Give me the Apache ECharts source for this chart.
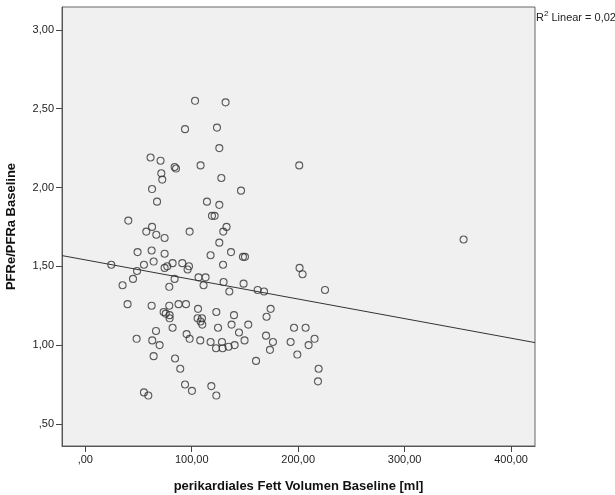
<!DOCTYPE html>
<html>
<head>
<meta charset="utf-8">
<script src="https://cdn.jsdelivr.net/npm/echarts@6/dist/echarts.min.js"></script>
<style>
  html, body { margin: 0; padding: 0; background: #fff; }
  #main { width: 615px; height: 495px; }
</style>
</head>
<body>
<div id="main"></div>
<script>
// perikardiales Fett Volumen Baseline [ml] vs. PFRe/PFRa Baseline
var fatVolume = [
  61.3, 70.7, 83.9, 85.2, 71.4, 72.3, 62.7, 67.4, 40.4, 62.7, 57.3, 66.7, 74.5,
  49.1, 62.3, 74.5, 64.2, 55.1, 24.4, 74.5, 77.0, 82.0, 48.6, 44.8, 35.0, 78.9, 83.9,
  39.7, 62.3, 78.9, 73.6, 75.6, 79.2, 79.2, 87.6, 82.0, 66.4, 48.2, 62.9, 69.8,
  64.2, 84.3, 89.2, 55.1, 59.2,
  103.1, 131.8, 93.7, 123.7, 125.9, 108.3, 201.0, 127.8, 146.3, 114.3, 125.9,
  119.0, 121.5, 98.0, 132.7, 129.6,
  125.9, 117.7, 136.9, 148.1, 150.0, 91.1, 97.4, 96.1, 129.4, 201.3, 204.1,
  106.4, 113.0, 111.1, 129.9, 148.7, 135.3, 161.9, 167.9, 225.2, 94.6,
  105.9, 105.5, 109.6, 108.3, 109.9, 123.1, 139.7, 174.1, 170.3, 137.4, 124.7,
  153.1, 144.4, 196.1, 207.0, 95.2, 98.0, 108.0, 117.7, 128.4, 122.8, 129.0,
  134.6, 140.3, 149.6, 169.8, 176.3, 173.5, 192.9, 215.4, 209.8, 199.2, 160.4,
  93.7, 100.2, 118.4, 123.1, 219.2, 218.6,
  355.4
];
var pfrRatio = [
  2.19, 2.17, 2.13, 2.12, 2.09, 2.05, 1.99, 1.91, 1.79, 1.75, 1.72, 1.70, 1.68,
  1.59, 1.60, 1.58, 1.53, 1.51, 1.51, 1.49, 1.50, 1.52, 1.47, 1.42, 1.38, 1.37, 1.42,
  1.26, 1.25, 1.25, 1.21, 1.20, 1.19, 1.17, 1.26, 1.11, 1.09, 1.04, 1.03, 1.00,
  0.93, 0.915, 0.85, 0.70, 0.68,
  2.55, 2.54, 2.37, 2.38, 2.25, 2.14, 2.14, 2.06, 1.98, 1.91, 1.89,
  1.82, 1.82, 1.72, 1.75, 1.72,
  1.65, 1.57, 1.59, 1.56, 1.56, 1.52, 1.50, 1.48, 1.51, 1.49, 1.45,
  1.43, 1.43, 1.38, 1.40, 1.39, 1.34, 1.35, 1.34, 1.35, 1.26,
  1.23, 1.17, 1.17, 1.15, 1.13, 1.21, 1.19, 1.23, 1.18, 1.13, 1.11,
  1.13, 1.08, 1.11, 1.11, 1.07, 1.04, 1.03, 1.02, 1.02, 0.98, 0.98,
  0.99, 1.00, 1.03, 1.06, 1.02, 0.97, 1.02, 1.04, 1.00, 0.94, 0.90,
  0.75, 0.71, 0.74, 0.68, 0.85, 0.77,
  1.67
];
// linear fit, end points at the axis limits
var fitLine = [[-21.9, 1.568], [422.5, 1.016]];

var xTicks = [0, 100, 200, 300, 400];
var yTicks = [0.5, 1.0, 1.5, 2.0, 2.5, 3.0];

function deNum(v) {
  var s = v.toFixed(2).replace('.', ',');
  return s.charAt(0) === '0' ? s.substring(1) : s;
}

var points = fatVolume.map(function (x, i) { return [x, pfrRatio[i]]; });

var myChart = echarts.init(document.getElementById('main'));
var font = 'Liberation Sans, Arial, sans-serif';
var option = {
  animation: false,
  textStyle: { fontFamily: font },
  grid: {
    left: 62, right: 80, top: 7, bottom: 49,
    outerBoundsMode: 'none',
    containLabel: false,
    show: true,
    backgroundColor: '#f0f0f0',
    borderColor: '#666',
    borderWidth: 1
  },
  xAxis: {
    type: 'value',
    min: -21.9,
    max: 422.5,
    name: 'perikardiales Fett Volumen Baseline [ml]',
    nameLocation: 'middle',
    nameGap: 34,
    nameTextStyle: { fontFamily: font, fontSize: 13, fontWeight: 'bold', color: '#111' },
    axisLine: { onZero: false, lineStyle: { color: '#555', width: 1 } },
    axisTick: { customValues: xTicks, length: 6, lineStyle: { color: '#444' } },
    axisLabel: {
      customValues: xTicks,
      formatter: deNum,
      fontSize: 11, color: '#222', margin: 8
    },
    splitLine: { show: false }
  },
  yAxis: {
    type: 'value',
    min: 0.36,
    max: 3.145,
    name: 'PFRe/PFRa Baseline',
    nameLocation: 'middle',
    nameGap: 44,
    nameTextStyle: { fontFamily: font, fontSize: 13, fontWeight: 'bold', color: '#111' },
    axisLine: { show: true, onZero: false, lineStyle: { color: '#555', width: 1 } },
    axisTick: { show: true, customValues: yTicks, length: 6, lineStyle: { color: '#444' } },
    axisLabel: {
      customValues: yTicks,
      formatter: deNum,
      fontSize: 11, color: '#222', margin: 8
    },
    splitLine: { show: false }
  },
  series: [
    {
      type: 'scatter',
      data: points,
      symbol: 'circle',
      symbolSize: 7,
      itemStyle: { color: 'rgba(0,0,0,0)', borderColor: '#333', borderWidth: 1.1 },
      z: 3
    },
    {
      type: 'line',
      data: fitLine,
      showSymbol: false,
      lineStyle: { color: '#333', width: 1 },
      z: 2
    }
  ],
  graphic: [
    {
      type: 'text',
      left: 536,
      top: 10,
      style: {
        text: '{b|R}{s|2}{b| Linear = 0,02}',
        rich: {
          b: { fontFamily: font, fontSize: 11, fill: '#222', verticalAlign: 'bottom' },
          s: { fontFamily: font, fontSize: 8, fill: '#222', verticalAlign: 'top', padding: [0, 0, 5, 0] }
        }
      }
    }
  ]
};
myChart.setOption(option);
</script>
</body>
</html>
